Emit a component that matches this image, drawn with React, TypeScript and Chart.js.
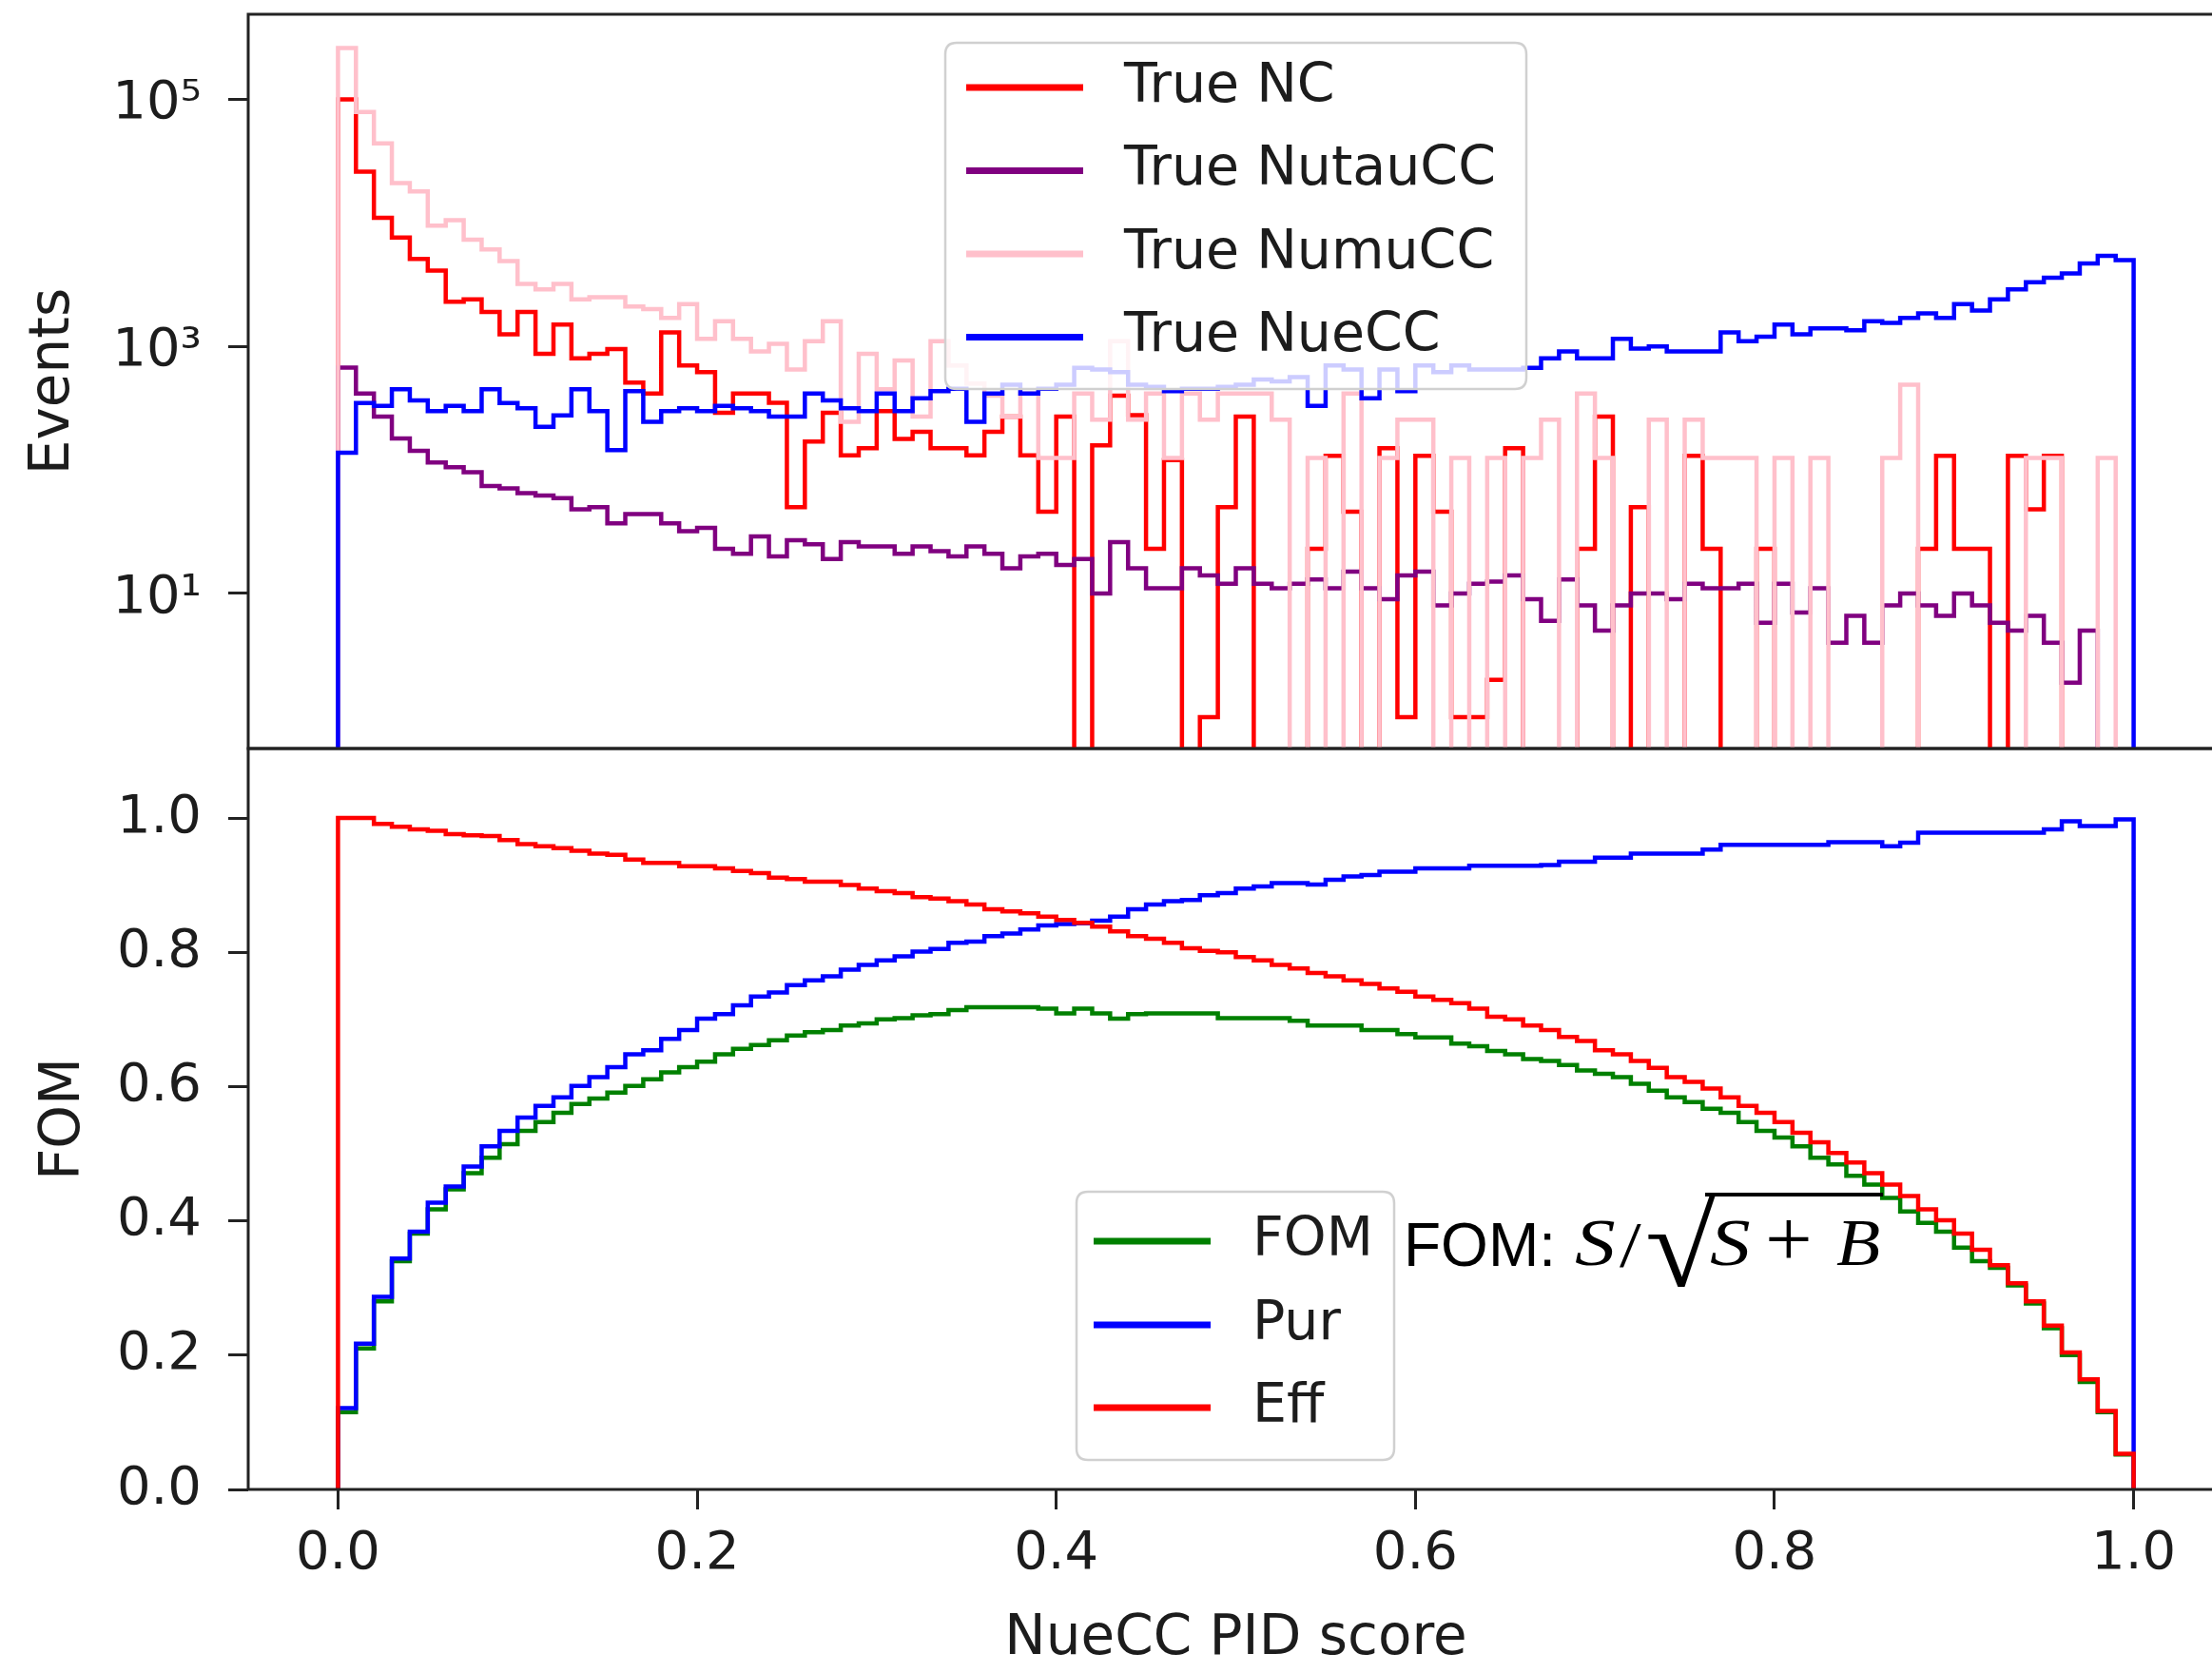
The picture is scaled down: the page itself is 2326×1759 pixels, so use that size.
import React, { useEffect, useRef } from "react";
import { Chart, registerables } from "chart.js";

Chart.register(...registerables);

// ---------------- DATA ----------------
// Histogram binning: 100 bins between 0 and 1 (NueCC PID score)
const N_BINS = 100;
const X_RANGE = [0, 1];

// Top panel: events per bin (log scale)
const TRUE_NC = [
  100000, 26000, 11000, 7600, 5100, 4100, 2300, 2400, 1900, 1250,
  1900, 870, 1500, 800, 870, 950, 510, 415, 1300, 700,
  620, 290, 415, 415, 350, 50, 170, 290, 131, 150,
  300, 178, 204, 150, 150, 131, 204, 270, 131, 46,
  270, 0, 158, 400, 278, 23, 120, 0, 1, 50,
  270, 0, 0, 0, 23, 130, 46, 0, 150, 1,
  130, 46, 1, 1, 2, 150, 0, 0, 0, 23,
  270, 0, 50, 0, 0, 130, 23, 0, 0, 23,
  0, 0, 0, 0, 0, 0, 0, 0, 23, 130,
  23, 23, 0, 130, 48, 130, 0, 0, 0, 0,
];
const TRUE_NUTAUCC = [
  675, 415, 270, 180, 143, 115, 105, 96, 74, 71,
  65, 62, 59, 48, 50, 37, 44, 44, 37, 32,
  34, 23, 21, 29, 20, 27, 25, 19, 26, 24,
  24, 21, 24, 22, 20, 24, 21, 16, 20, 21,
  17, 19, 10, 26, 16, 11, 11, 16, 14, 12,
  16, 12, 11, 12, 13, 11, 15, 11, 9, 14,
  15, 8, 10, 12, 12.5, 14, 9, 6, 13, 8,
  5, 8, 10, 10, 9, 12, 11, 11, 12, 5.8,
  12, 7, 11, 4, 6.6, 4, 8, 10, 8, 6.6,
  10, 8, 5.8, 5, 6.6, 4, 1.9, 5, 0, 0,
];
const TRUE_NUMUCC = [
  260000, 79000, 44000, 21000, 18000, 9500, 10500, 7300, 6100, 4900,
  3200, 2900, 3200, 2400, 2500, 2500, 2100, 2000, 1700, 2200,
  1150, 1600, 1150, 910, 1050, 650, 1100, 1600, 245, 870,
  450, 770, 270, 1100, 700, 500, 400, 270, 415, 125,
  125, 415, 255, 1100, 255, 415, 125, 415, 255, 415,
  415, 415, 255, 0, 125, 0, 415, 0, 125, 255,
  255, 0, 125, 0, 125, 0, 125, 255, 0, 415,
  125, 0, 0, 255, 0, 255, 125, 125, 125, 0,
  125, 0, 125, 0, 0, 0, 125, 490, 0, 0,
  0, 0, 0, 0, 125, 125, 0, 0, 125, 0,
];
const TRUE_NUECC = [
  138, 348, 330, 450, 365, 300, 330, 300, 450, 348,
  316, 223, 277, 450, 300, 145, 435, 245, 300, 316,
  300, 330, 316, 300, 270, 270, 415, 365, 316, 300,
  415, 300, 380, 435, 455, 245, 415, 490, 415, 455,
  490, 670, 650, 620, 490, 470, 435, 455, 455, 470,
  490, 540, 520, 565, 330, 700, 650, 380, 650, 435,
  700, 620, 700, 650, 650, 650, 670, 800, 910, 800,
  800, 1150, 960, 1000, 910, 910, 910, 1300, 1100, 1200,
  1500, 1250, 1400, 1400, 1350, 1600, 1550, 1700, 1850, 1700,
  2200, 1950, 2400, 2900, 3300, 3600, 3900, 4700, 5400, 5000,
];

// Bottom panel: figure of merit, purity, efficiency per cut value
const FOM = [
  0.115, 0.21, 0.28, 0.34, 0.381, 0.417, 0.447, 0.471, 0.494, 0.514,
  0.534, 0.547, 0.561, 0.574, 0.582, 0.591, 0.601, 0.611, 0.621, 0.629,
  0.637, 0.648, 0.656, 0.662, 0.669, 0.676, 0.681, 0.684, 0.691, 0.694,
  0.7, 0.702, 0.706, 0.708, 0.714, 0.718, 0.718, 0.718, 0.718, 0.716,
  0.709, 0.716, 0.709, 0.701, 0.708, 0.709, 0.709, 0.709, 0.709, 0.702,
  0.702, 0.702, 0.702, 0.698, 0.691, 0.691, 0.691, 0.684, 0.684, 0.678,
  0.673, 0.673, 0.664, 0.66, 0.653, 0.648, 0.641, 0.638, 0.632, 0.624,
  0.619, 0.614, 0.604, 0.594, 0.584, 0.577, 0.567, 0.561, 0.547, 0.534,
  0.524, 0.511, 0.494, 0.484, 0.467, 0.454, 0.434, 0.414, 0.397, 0.384,
  0.36, 0.34, 0.33, 0.304, 0.277, 0.24, 0.2, 0.16, 0.115, 0.052,
];
const PUR = [
  0.121, 0.217, 0.287, 0.344, 0.384, 0.427, 0.451, 0.481, 0.511, 0.534,
  0.554, 0.571, 0.584, 0.601, 0.614, 0.629, 0.648, 0.654, 0.671, 0.684,
  0.701, 0.708, 0.721, 0.734, 0.74, 0.751, 0.758, 0.764, 0.774, 0.781,
  0.788, 0.794, 0.801, 0.805, 0.814, 0.816, 0.824, 0.828, 0.834, 0.84,
  0.842, 0.843, 0.847, 0.853, 0.864, 0.871, 0.876, 0.878, 0.885, 0.888,
  0.895, 0.898, 0.903, 0.903, 0.901, 0.908, 0.913, 0.915, 0.92, 0.92,
  0.925, 0.925, 0.925, 0.929, 0.929, 0.929, 0.929, 0.93, 0.935, 0.935,
  0.941, 0.941, 0.947, 0.947, 0.947, 0.947, 0.953, 0.96, 0.96, 0.96,
  0.96, 0.96, 0.96, 0.964, 0.964, 0.964, 0.958, 0.963, 0.978, 0.978,
  0.978, 0.978, 0.978, 0.978, 0.978, 0.983, 0.995, 0.988, 0.988, 0.998,
];
const EFF = [
  1.0, 1.0, 0.991, 0.987, 0.983, 0.981, 0.976, 0.974, 0.973, 0.967,
  0.961, 0.958, 0.955, 0.951, 0.947, 0.945, 0.938, 0.933, 0.933, 0.928,
  0.928, 0.925, 0.921, 0.918, 0.911, 0.909, 0.905, 0.905, 0.9, 0.895,
  0.891, 0.888, 0.882, 0.88, 0.876, 0.871, 0.864, 0.861, 0.858, 0.853,
  0.848, 0.844, 0.838, 0.831, 0.824, 0.82, 0.814, 0.806, 0.802, 0.8,
  0.793, 0.788, 0.781, 0.776, 0.769, 0.764, 0.758, 0.753, 0.746, 0.741,
  0.734, 0.729, 0.724, 0.716, 0.704, 0.7, 0.691, 0.684, 0.674, 0.668,
  0.654, 0.648, 0.638, 0.628, 0.614, 0.607, 0.597, 0.584, 0.571, 0.561,
  0.547, 0.531, 0.517, 0.501, 0.487, 0.471, 0.454, 0.437, 0.417, 0.401,
  0.381, 0.357, 0.334, 0.307, 0.28, 0.244, 0.204, 0.164, 0.117, 0.053,
];

const X_TICKS = [0, 0.2, 0.4, 0.6, 0.8, 1.0];
const X_TICK_LABELS = ["0.0", "0.2", "0.4", "0.6", "0.8", "1.0"];
const EVENTS_TICKS = [10, 1000, 100000];
const EVENTS_TICK_LABELS = ["10\u00B9", "10\u00B3", "10\u2075"];
const FOM_TICKS = [0, 0.2, 0.4, 0.6, 0.8, 1.0];
const FOM_TICK_LABELS = ["0.0", "0.2", "0.4", "0.6", "0.8", "1.0"];

const TOP_SERIES = [
  { label: "True NC", values: TRUE_NC, color: "#ff0000" },
  { label: "True NutauCC", values: TRUE_NUTAUCC, color: "#800080" },
  { label: "True NumuCC", values: TRUE_NUMUCC, color: "#ffc0cb" },
  { label: "True NueCC", values: TRUE_NUECC, color: "#0000ff" },
];
const BOTTOM_SERIES = [
  { label: "FOM", values: FOM, color: "#008000" },
  { label: "Pur", values: PUR, color: "#0000ff" },
  { label: "Eff", values: EFF, color: "#ff0000" },
];

// ---------------- STYLE / LAYOUT ----------------
const FONT = '"DejaVu Sans", Verdana, sans-serif';
const INK = "#1c1c1c";
const CANVAS_W = 2348;
const PAGE_H = 1759;
const AX_LEFT = 261;
const TOP_OFFSET = 100; // top canvas starts above the page
const TOP_AX_TOP = 15;
const SPLIT_Y = 787;
const BOT_AX_BOTTOM = 1566;
const TOP_PAD_BOTTOM = 120;
const TOP_CANVAS_H = TOP_OFFSET + SPLIT_Y + TOP_PAD_BOTTOM;
const TICK_FONT = 56;
const LEGEND_FONT = 57;
const TITLE_FONT = 58;
const LINE_W = 4.5;

const TOP_LEGEND = {
  box: { x: 994, y: 45, w: 611, h: 364 },
  lineX0: 1016, lineX1: 1139, textX: 1182,
  rows: [92, 179.5, 267, 354.5],
};
const BOTTOM_LEGEND = {
  box: { x: 1132, y: 1253, w: 334, h: 282 },
  lineX0: 1150, lineX1: 1273, textX: 1317,
  rows: [1305, 1393, 1480],
};

function stepPoints(values: number[], floor: number) {
  const w = (X_RANGE[1] - X_RANGE[0]) / N_BINS;
  const pts: { x: number; y: number }[] = [{ x: X_RANGE[0], y: floor }];
  values.forEach((v, i) => pts.push({ x: X_RANGE[0] + i * w, y: v > 0 ? v : floor }));
  pts.push({ x: X_RANGE[1], y: floor });
  return pts;
}

function makeDatasets(series: any[], floor: number) {
  return series.map((s, i) => ({
    label: s.label,
    data: stepPoints(s.values, floor),
    borderColor: s.color,
    backgroundColor: s.color,
    borderWidth: LINE_W,
    pointRadius: 0,
    stepped: "before" as const,
    tension: 0,
    fill: false,
    borderJoinStyle: "miter" as const,
    order: series.length - 1 - i,
  }));
}

function framePlugin() {
  return {
    id: "mplFrame",
    afterDatasetsDraw(chart: any) {
      const { ctx, chartArea } = chart;
      ctx.save();
      ctx.strokeStyle = "#222";
      ctx.lineWidth = 3;
      ctx.lineCap = "square";
      ctx.beginPath();
      ctx.moveTo(chartArea.right + 5, chartArea.top);
      ctx.lineTo(chartArea.left, chartArea.top);
      ctx.lineTo(chartArea.left, chartArea.bottom);
      ctx.lineTo(chartArea.right + 5, chartArea.bottom);
      ctx.stroke();
      ctx.restore();
    },
  };
}

function legendPlugin(cfg: any, series: any[], offsetY: number) {
  return {
    id: "mplLegend",
    afterDraw(chart: any) {
      const ctx = chart.ctx;
      const { x, y, w, h } = cfg.box;
      const yy = y + offsetY;
      const r = 12;
      ctx.save();
      ctx.beginPath();
      ctx.moveTo(x + r, yy);
      ctx.lineTo(x + w - r, yy);
      ctx.quadraticCurveTo(x + w, yy, x + w, yy + r);
      ctx.lineTo(x + w, yy + h - r);
      ctx.quadraticCurveTo(x + w, yy + h, x + w - r, yy + h);
      ctx.lineTo(x + r, yy + h);
      ctx.quadraticCurveTo(x, yy + h, x, yy + h - r);
      ctx.lineTo(x, yy + r);
      ctx.quadraticCurveTo(x, yy, x + r, yy);
      ctx.closePath();
      ctx.fillStyle = "rgba(255,255,255,0.8)";
      ctx.fill();
      ctx.strokeStyle = "#d0d0d0";
      ctx.lineWidth = 2.5;
      ctx.stroke();
      series.forEach((s, i) => {
        const ly = cfg.rows[i] + offsetY;
        ctx.strokeStyle = s.color;
        ctx.lineWidth = 7;
        ctx.lineCap = "butt";
        ctx.beginPath();
        ctx.moveTo(cfg.lineX0, ly);
        ctx.lineTo(cfg.lineX1, ly);
        ctx.stroke();
        ctx.fillStyle = INK;
        ctx.font = `${LEGEND_FONT}px ${FONT}`;
        ctx.textAlign = "left";
        ctx.textBaseline = "middle";
        ctx.fillText(s.label, cfg.textX, ly);
      });
      ctx.restore();
    },
  };
}

const tickGrid = {
  display: true,
  drawOnChartArea: false,
  drawTicks: true,
  tickLength: 21,
  tickWidth: 3,
  tickColor: "#222",
};

function Annotation() {
  const sans = '"Liberation Sans", Arial, sans-serif';
  const serif = '"Liberation Serif", "Times New Roman", serif';
  const base = 1331;
  const put = (
    text: string, left: number, family: string, size: number,
    italic = false, sx = 1, baseline = base, key = ""
  ) => (
    <span
      key={key || text + left}
      style={{
        position: "absolute",
        left,
        top: baseline - (family === sans ? 0.8465 : 0.8375) * size,
        fontFamily: family,
        fontSize: size,
        lineHeight: `${size}px`,
        fontStyle: italic ? "italic" : "normal",
        whiteSpace: "nowrap",
        color: "#000",
        transform: `scaleX(${sx})`,
        transformOrigin: "left center",
      }}
    >
      {text}
    </span>
  );
  return (
    <div style={{ position: "absolute", left: 0, top: 0, width: 0, height: 0 }}>
      {put("FOM:", 1476, sans, 64)}
      {put("S", 1656, serif, 70, true, 1.22)}
      {put("/", 1703, serif, 68, false, 1.2)}
      {put("\u221A", 1730, serif, 124, false, 1.1, 1353)}
      <div style={{ position: "absolute", left: 1793, top: 1254, width: 187, height: 4, background: "#000" }} />
      {put("S", 1798, serif, 70, true, 1.22)}
      {put("+", 1856, serif, 84, false, 1.05)}
      {put("B", 1931, serif, 70, true, 1.08)}
    </div>
  );
}

export default function App() {
  const topRef = useRef<HTMLCanvasElement>(null);
  const botRef = useRef<HTMLCanvasElement>(null);

  useEffect(() => {
    const top = new Chart(topRef.current as HTMLCanvasElement, {
      type: "line",
      data: { datasets: makeDatasets(TOP_SERIES, 0.001) as any },
      options: {
        animation: false,
        responsive: false,
        devicePixelRatio: 1,
        events: [],
        layout: { padding: { top: TOP_OFFSET + TOP_AX_TOP, left: 0, right: 10, bottom: TOP_PAD_BOTTOM } },
        plugins: { legend: { display: false }, tooltip: { enabled: false } },
        scales: {
          x: { type: "linear", min: -0.05, max: 1.05, display: false },
          y: {
            type: "logarithmic",
            min: 0.556,
            max: 488000,
            afterFit: (s: any) => { s.width = AX_LEFT; },
            afterBuildTicks: (s: any) => { s.ticks = EVENTS_TICKS.map((v) => ({ value: v })); },
            ticks: {
              callback: (_v: any, i: number) => EVENTS_TICK_LABELS[i],
              font: { family: FONT, size: TICK_FONT },
              color: INK,
              padding: 28,
              labelOffset: 5,
              autoSkip: false,
            },
            grid: tickGrid as any,
            border: { display: false },
            title: {
              display: true,
              text: "Events",
              font: { family: FONT, size: TITLE_FONT },
              color: INK,
              padding: { top: 22, bottom: 0 },
            },
          },
        },
      } as any,
      plugins: [framePlugin(), legendPlugin(TOP_LEGEND, TOP_SERIES, TOP_OFFSET)],
    });

    const bot = new Chart(botRef.current as HTMLCanvasElement, {
      type: "line",
      data: { datasets: makeDatasets(BOTTOM_SERIES, 0) as any },
      options: {
        animation: false,
        responsive: false,
        devicePixelRatio: 1,
        events: [],
        layout: { padding: { top: SPLIT_Y, left: 0, right: 10, bottom: 0 } },
        plugins: { legend: { display: false }, tooltip: { enabled: false } },
        scales: {
          x: {
            type: "linear",
            min: -0.05,
            max: 1.05,
            afterFit: (s: any) => { s.height = PAGE_H - BOT_AX_BOTTOM; },
            afterBuildTicks: (s: any) => { s.ticks = X_TICKS.map((v) => ({ value: v })); },
            ticks: {
              callback: (_v: any, i: number) => X_TICK_LABELS[i],
              font: { family: FONT, size: TICK_FONT },
              color: INK,
              padding: 14,
              maxRotation: 0,
              autoSkip: false,
            },
            grid: tickGrid as any,
            border: { display: false },
            title: {
              display: true,
              text: "NueCC PID score",
              font: { family: FONT, size: TITLE_FONT },
              color: INK,
              padding: { top: 0, bottom: 0 },
            },
          },
          y: {
            type: "linear",
            min: 0,
            max: 1.1034,
            afterFit: (s: any) => { s.width = AX_LEFT; },
            afterBuildTicks: (s: any) => { s.ticks = FOM_TICKS.map((v) => ({ value: v })); },
            ticks: {
              callback: (_v: any, i: number) => FOM_TICK_LABELS[i],
              font: { family: FONT, size: TICK_FONT },
              color: INK,
              padding: 28,
              autoSkip: false,
            },
            grid: tickGrid as any,
            border: { display: false },
            title: {
              display: true,
              text: "FOM",
              font: { family: FONT, size: TITLE_FONT },
              color: INK,
              padding: { top: 33, bottom: 0 },
            },
          },
        },
      } as any,
      plugins: [framePlugin(), legendPlugin(BOTTOM_LEGEND, BOTTOM_SERIES, 0)],
    });

    return () => {
      top.destroy();
      bot.destroy();
    };
  }, []);

  return (
    <div
      style={{
        position: "absolute",
        left: 0,
        top: 0,
        width: 2326,
        height: PAGE_H,
        overflow: "hidden",
        background: "#fff",
      }}
    >
      <canvas
        ref={botRef}
        width={CANVAS_W}
        height={PAGE_H}
        style={{ position: "absolute", left: 0, top: 0, width: CANVAS_W, height: PAGE_H }}
      />
      <canvas
        ref={topRef}
        width={CANVAS_W}
        height={TOP_CANVAS_H}
        style={{ position: "absolute", left: 0, top: -TOP_OFFSET, width: CANVAS_W, height: TOP_CANVAS_H }}
      />
      <Annotation />
    </div>
  );
}
